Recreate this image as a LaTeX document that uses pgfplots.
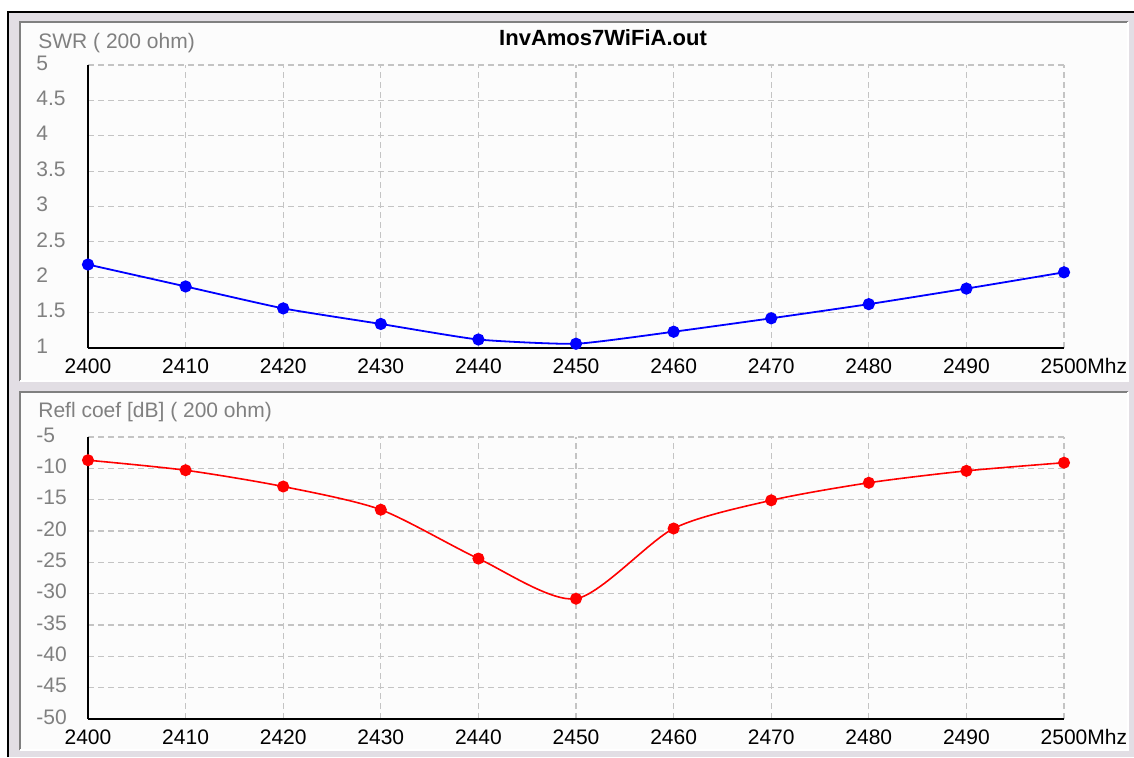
\documentclass[border=0pt]{standalone}
\usepackage{fontspec}
\setmainfont{Liberation Sans}
\usepackage{pgfplots}
\pgfplotsset{compat=1.18}
\definecolor{winbg}{RGB}{226,222,228}
\definecolor{panelbg}{RGB}{252,252,252}
\definecolor{edge}{RGB}{128,128,128}
\definecolor{gridc}{RGB}{196,196,196}
\definecolor{labc}{RGB}{128,128,128}
\newcommand{\lbl}{\fontsize{10.5}{12}\selectfont}

\pgfplotsset{
  panel/.style={
    scale only axis,
    width=488pt,
    xmin=2400, xmax=2500,
    xtick={2400,2410,...,2500},
    xticklabels={2400,2410,2420,2430,2440,2450,2460,2470,2480,2490,2500\rlap{Mhz}},
    axis x line=bottom, axis y line=left,
    axis line style={black, line width=1pt, -},
    major tick length=0pt,
    grid=major,
    grid style={gridc, line width=0.6pt, dash pattern=on 3pt off 2pt},
    xticklabel style={font=\lbl, text=black, anchor=north, inner sep=0pt, yshift=-5pt},
    yticklabel style={font=\lbl, text=labc, anchor=west, inner sep=0pt, xshift=-26pt, yshift=1pt},
    clip=false,
  },
}

\begin{document}
\begin{tikzpicture}
\begin{scope}[x=0.5pt,y=-0.5pt]
  \useasboundingbox (0,0) rectangle (1134,757);
  \fill[white] (0,0) rectangle (1134,757);
  \fill[winbg] (8,12) rectangle (1134,757);
  \draw[black,line width=1pt] (8,757) -- (8,12) -- (1134,12);
  % panels
  \fill[panelbg] (20,22) rectangle (1128,381);
  \draw[edge,line width=1pt] (20,381) -- (20,22) -- (1128,22);
  \draw[white,line width=1pt] (20,381) -- (1128,381) -- (1128,22);
  \fill[panelbg] (20,392) rectangle (1128,750);
  \draw[edge,line width=1pt] (20,750) -- (20,392) -- (1128,392);
  \draw[white,line width=1pt] (20,750) -- (1128,750) -- (1128,392);
  % titles
  \node[anchor=west,inner sep=0pt,text=labc,font=\lbl] at (38,43) {SWR ( 200 ohm)};
  \node[anchor=west,inner sep=0pt,text=labc,font=\lbl] at (38,412) {Refl coef [dB] ( 200 ohm)};
  \node[inner sep=0pt,font=\bfseries\fontsize{11}{13}\selectfont] at (603,38) {InvAmos7WiFiA.out};
\end{scope}

\begin{axis}[panel,
    at={(44pt,-174pt)}, anchor=south west,
    height=141.5pt,
    ymin=1, ymax=5,
    ytick={1,1.5,2,2.5,3,3.5,4,4.5,5},
    yticklabels={1,1.5,2,2.5,3,3.5,4,4.5,5},
  ]
  \addplot[blue, line width=0.9pt, smooth, tension=0.3,
           mark=*, mark size=2.6pt, mark options={fill=blue, draw=blue}]
  coordinates {
    (2400,2.18)(2410,1.87)(2420,1.56)(2430,1.34)(2440,1.12)(2450,1.06)
    (2460,1.23)(2470,1.42)(2480,1.62)(2490,1.84)(2500,2.07)
  };
\end{axis}

\begin{axis}[panel,
    at={(44pt,-359.5pt)}, anchor=south west,
    height=141pt,
    ymin=-50, ymax=-5,
    ytick={-50,-45,...,-5},
    yticklabels={-50,-45,-40,-35,-30,-25,-20,-15,-10,-5},
  ]
  \addplot[red, line width=0.8pt, smooth, tension=0.45,
           mark=*, mark size=2.6pt, mark options={fill=red, draw=red}]
  coordinates {
    (2400,-8.7)(2410,-10.3)(2420,-12.9)(2430,-16.6)(2440,-24.4)(2450,-30.8)
    (2460,-19.6)(2470,-15.1)(2480,-12.3)(2490,-10.4)(2500,-9.1)
  };
\end{axis}
\end{tikzpicture}
\end{document}
